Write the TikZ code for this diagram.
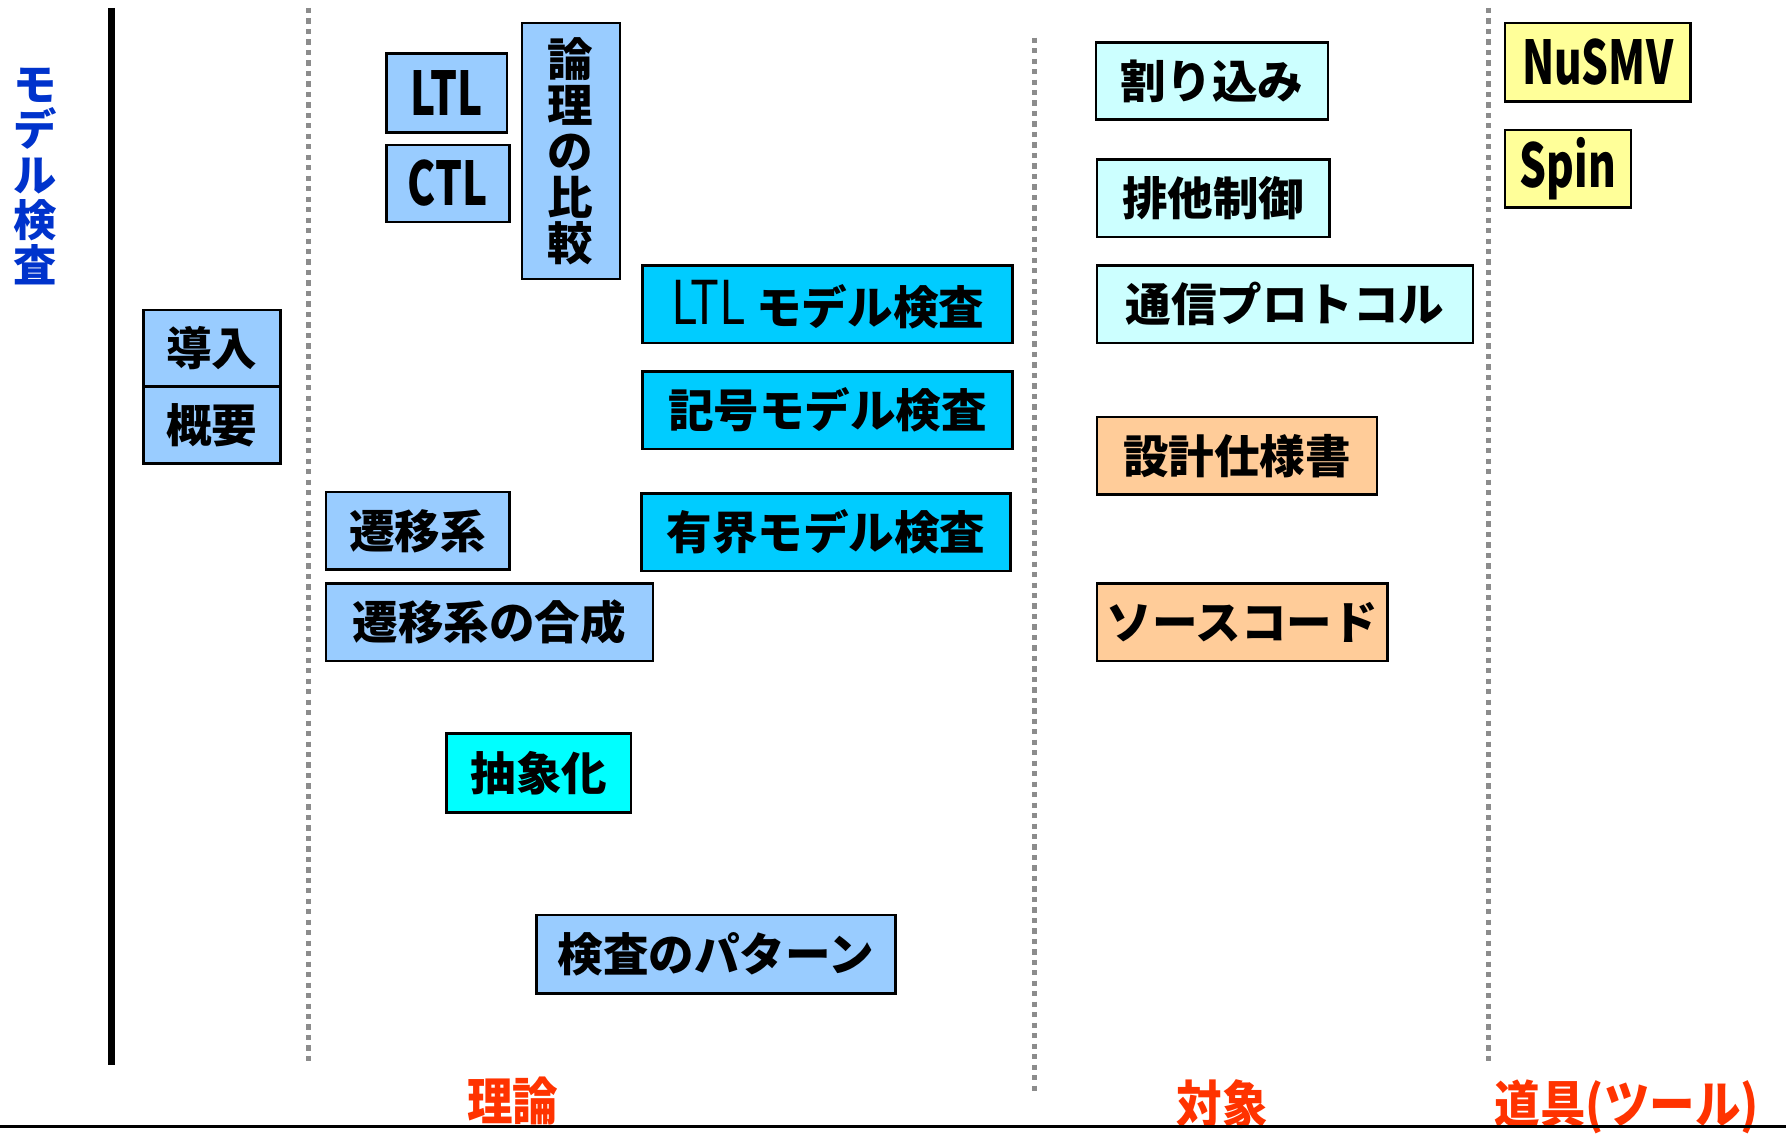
\documentclass[tikz,border=0pt]{standalone}
\usepackage{fontspec}
\usepackage{graphicx}
\setmainfont{Noto Sans CJK JP}
\definecolor{lb}{HTML}{99CCFF}
\definecolor{cy}{HTML}{00CCFF}
\definecolor{aq}{HTML}{00FFFF}
\definecolor{pc}{HTML}{CCFFFF}
\definecolor{orng}{HTML}{FFCC99}
\definecolor{yl}{HTML}{FFFF99}
\definecolor{labred}{HTML}{FF3300}
\definecolor{labblue}{HTML}{0033CC}
\definecolor{dotgray}{HTML}{8C8C8C}
\newcommand\jpb{\fontsize{40}{40.4}\selectfont\bfseries}
\newcommand\lat[1]{\scalebox{0.7}[1]{\fontsize{53}{53}\selectfont\bfseries #1}}
\newcommand\latr[1]{\scalebox{0.8}[1]{\fontsize{53}{53}\selectfont\mdseries #1}}
\newcommand\tall[1]{\scalebox{1}[1.12]{#1}}
\tikzset{
  box/.style={draw=black, line width=2.2pt, inner sep=0pt, anchor=north west, font=\jpb, align=center},
  dotline/.style={draw=dotgray, line width=4pt, dash pattern=on 4.6pt off 4.6pt},
  lab/.style={text=labred, font=\fontsize{40}{40}\selectfont\bfseries, inner sep=0pt},
}
\begin{document}
\begin{tikzpicture}[x=1pt,y=-1pt]
\useasboundingbox (0,0) rectangle (1568,997);
% left title
\node[text=labblue, font=\fontsize{38}{39.6}\selectfont\bfseries, align=center, inner sep=0pt] (title) at (31,155) {モ\\デ\\ル\\検\\査};
% axis and separators
\coordinate (a1) at (98,7); \coordinate (a2) at (98,935);
\draw[line width=6pt] (a1) -- (a2);
\coordinate (d1a) at (271,7); \coordinate (d1b) at (271,933);
\coordinate (d2a) at (908,33); \coordinate (d2b) at (908,962);
\coordinate (d3a) at (1307,7); \coordinate (d3b) at (1307,933);
\draw[dotline] (d1a) -- (d1b);
\draw[dotline] (d2a) -- (d2b);
\draw[dotline] (d3a) -- (d3b);
% bottom labels
\node[lab, anchor=base] (riron) at (450,984) {\tall{理論}};
\node[lab, anchor=base] (taisho) at (1073,986) {\tall{対象}};
\node[lab, anchor=base west] (dogu) at (1312,986) {\tall{道具(ツール)}};
\coordinate (b1) at (0,989); \coordinate (b2) at (1568,989);
\draw[line width=2pt] (b1) -- (b2);
% intro
\node[box, fill=lb, minimum width=120pt, minimum height=67pt] (donyu) at (125,271) {導入};
\node[box, fill=lb, minimum width=120pt, minimum height=68pt] (gaiyo) at (125,338) {概要};
% theory
\node[box, fill=lb, minimum width=106pt, minimum height=69pt] (ltl) at (338,46) {\lat{LTL}};
\node[box, fill=lb, minimum width=108pt, minimum height=68pt] (ctl) at (338,126) {\lat{CTL}};
\node[box, fill=lb, minimum width=86pt, minimum height=225pt] (hikaku) at (457,19) {論\\理\\の\\比\\較};
\node[box, fill=cy, minimum width=325pt, minimum height=68pt] (ltlmc) at (563,232) {\latr{LTL} モデル検査};
\node[box, fill=cy, minimum width=325pt, minimum height=68pt] (kigo) at (563,325) {記号モデル検査};
\node[box, fill=cy, minimum width=324pt, minimum height=68pt] (yukai) at (562,432) {有界モデル検査};
\node[box, fill=lb, minimum width=161pt, minimum height=68pt] (sen) at (285,431) {遷移系};
\node[box, fill=lb, minimum width=287pt, minimum height=68pt] (gosei) at (285,511) {遷移系の合成};
\node[box, fill=aq, minimum width=162pt, minimum height=69pt] (chusho) at (391,643) {抽象化};
\node[box, fill=lb, minimum width=315pt, minimum height=69pt] (pattern) at (470,802) {検査のパターン};
% targets
\node[box, fill=pc, minimum width=204pt, minimum height=68pt] (wari) at (961,36) {割り込み};
\node[box, fill=pc, minimum width=204pt, minimum height=68pt] (haita) at (962,139) {排他制御};
\node[box, fill=pc, minimum width=330pt, minimum height=68pt] (tsushin) at (962,232) {通信プロトコル};
\node[box, fill=orng, minimum width=246pt, minimum height=68pt] (sekkei) at (962,365) {設計仕様書};
\node[box, fill=orng, minimum width=255pt, minimum height=68pt] (source) at (962,511) {ソースコード};
% tools
\node[box, fill=yl, minimum width=163pt, minimum height=69pt] (nusmv) at (1320,19) {\lat{NuSMV}};
\node[box, fill=yl, minimum width=111pt, minimum height=68pt] (spin) at (1320,113) {\lat{Spin}};
\end{tikzpicture}
\end{document}
